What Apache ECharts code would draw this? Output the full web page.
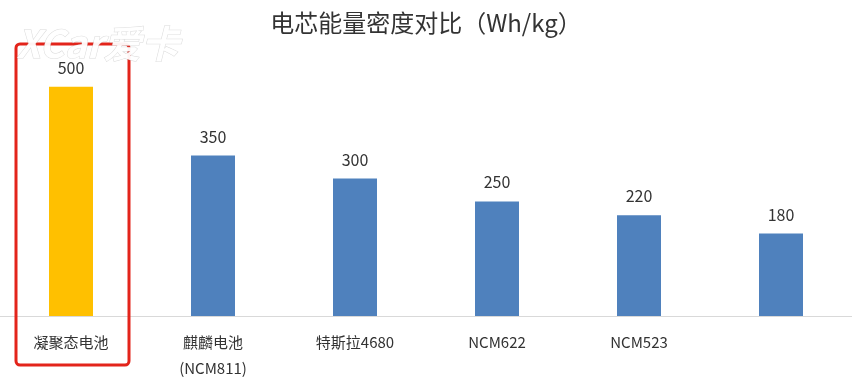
<!DOCTYPE html>
<html><head><meta charset="utf-8">
<script src="https://cdn.jsdelivr.net/npm/echarts@6/dist/echarts.min.js"></script>
<style>html,body{margin:0;padding:0;background:#fff}#c{width:852px;height:383px}</style>
</head><body><div id="c"></div>
<script>
const categories = ['凝聚态电池', '麒麟电池\n(NCM811)', '特斯拉4680', 'NCM622', 'NCM523', ''];
const values = [500, 350, 300, 250, 220, 180];
const highlightIndex = 0;
const titleText = '电芯能量密度对比（Wh/kg）';

const chart = echarts.init(document.getElementById('c'), null, {renderer: 'canvas'});
const font = '"Noto Sans CJK SC", "Noto Sans", sans-serif';
chart.setOption({
  backgroundColor: '#ffffff',
  animation: false,
  title: {
    text: titleText, left: 'center', top: 6,
    textStyle: {fontFamily: font, fontSize: 24, fontWeight: 'normal', color: '#333333'}
  },
  grid: {left: -4, right: -4, top: 41, bottom: 67, containLabel: false},
  xAxis: {
    type: 'category', data: categories,
    axisLine: {lineStyle: {color: '#d9d9d9', width: 1}},
    axisTick: {show: false},
    axisLabel: {fontFamily: font, fontSize: 15, color: '#333333', margin: 13, lineHeight: 26, interval: 0}
  },
  yAxis: {type: 'value', min: 0, max: 600, show: false, splitLine: {show: false}},
  series: [{
    type: 'bar', barWidth: 44,
    data: values.map((v, i) => ({value: v, itemStyle: {color: i === highlightIndex ? '#ffc000' : '#4f81bd'}})),
    label: {show: true, position: 'top', distance: 11, fontFamily: font, fontSize: 16, color: '#333333'}
  }],
  graphic: [
    {type: 'rect', shape: {x: 16, y: 44, width: 113, height: 321, r: 4},
     style: {fill: 'none', stroke: '#e3241b', lineWidth: 3}, z: 100},
    {type: 'text', left: 16, top: 24, z: 110,
     style: {text: 'XCar爱卡', font: 'italic bold 38px "Noto Sans CJK SC", sans-serif', fill: 'rgba(255,255,255,0.95)',
       stroke: 'rgba(150,150,150,0.35)', lineWidth: 1, shadowBlur: 4, shadowColor: 'rgba(0,0,0,0.35)', shadowOffsetX: 1, shadowOffsetY: 1}}
  ]
});
</script></body></html>
